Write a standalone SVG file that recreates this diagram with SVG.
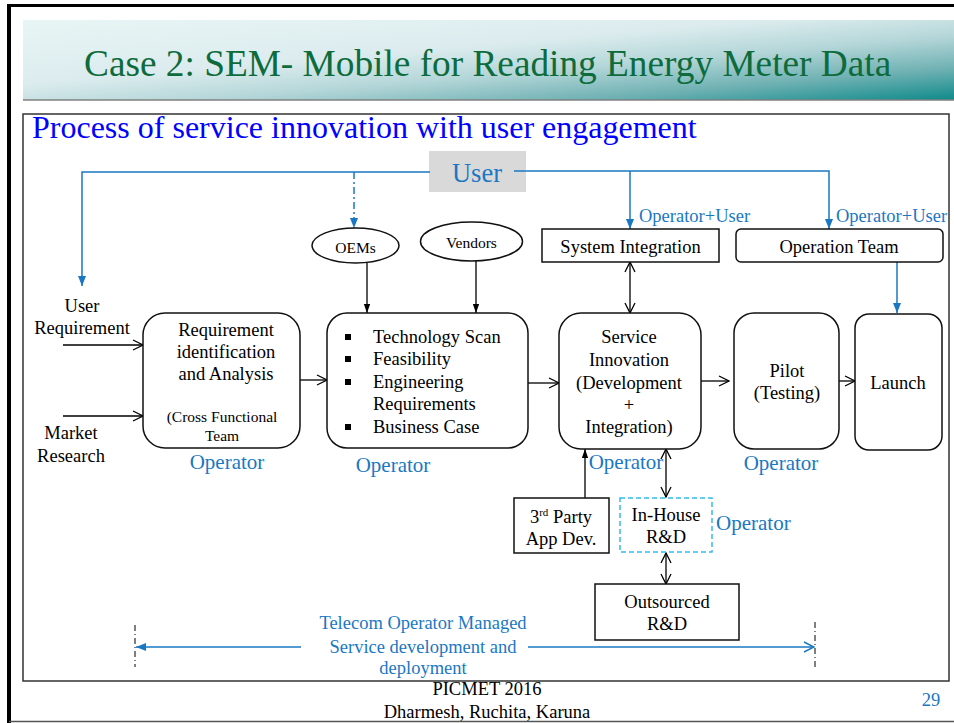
<svg xmlns="http://www.w3.org/2000/svg" width="954" height="723" viewBox="0 0 954 723">
  <style>
    .t { font-family: "Liberation Serif", "Times New Roman", serif; fill: #000; }
    .body { font-size: 18.5px; }
    .small { font-size: 15.5px; }
    .op { font-family: "Liberation Serif", "Times New Roman", serif; fill: #1a78c2; font-size: 21px; }
    .opu { font-family: "Liberation Serif", "Times New Roman", serif; fill: #1a78c2; font-size: 18.5px; }
    .box { fill: #fff; stroke: #111; stroke-width: 1.5; }
    .ln { fill: none; stroke: #000; stroke-width: 1.3; }
    .bl { fill: none; stroke: #1a78c2; stroke-width: 1.5; }
  </style>
  <defs>
    <linearGradient id="banner" x1="0" y1="0" x2="1" y2="1">
      <stop offset="0" stop-color="#e8f5f5"/>
      <stop offset="0.4" stop-color="#dcecee"/>
      <stop offset="0.6" stop-color="#b4d6d8"/>
      <stop offset="0.8" stop-color="#6fb1b3"/>
      <stop offset="1" stop-color="#0f8a8a"/>
    </linearGradient>
    <marker id="open" viewBox="0 0 12 12" refX="11" refY="6" markerWidth="12" markerHeight="12" markerUnits="userSpaceOnUse" orient="auto-start-reverse">
      <path d="M1,1 L11,6 L1,11" fill="none" stroke="#000" stroke-width="1.3"/>
    </marker>
    <marker id="fill" viewBox="0 0 10 10" refX="10" refY="5" markerWidth="9" markerHeight="9" markerUnits="userSpaceOnUse" orient="auto-start-reverse">
      <path d="M0,1.5 L10,5 L0,8.5 Z" fill="#000"/>
    </marker>
    <marker id="blue" viewBox="0 0 10 10" refX="10" refY="5" markerWidth="10" markerHeight="10" markerUnits="userSpaceOnUse" orient="auto-start-reverse">
      <path d="M0,1 L10,5 L0,9 Z" fill="#1a78c2"/>
    </marker>
    <marker id="blueopen" viewBox="0 0 12 12" refX="11" refY="6" markerWidth="12" markerHeight="12" markerUnits="userSpaceOnUse" orient="auto">
      <path d="M1,1 L11,6 L1,11" fill="none" stroke="#1a78c2" stroke-width="1.4"/>
    </marker>
  </defs>

  <!-- page frame -->
  <rect x="0" y="0" width="954" height="723" fill="#fff"/>
  <line x1="9" y1="4" x2="9" y2="723" stroke="#000" stroke-width="4"/>
  <line x1="7" y1="5.5" x2="954" y2="5.5" stroke="#000" stroke-width="3"/>
  <line x1="9" y1="721.5" x2="954" y2="721.5" stroke="#555" stroke-width="1.5"/>

  <!-- title banner -->
  <rect x="23" y="20" width="931" height="80" fill="url(#banner)"/>
  <line x1="23" y1="100" x2="954" y2="100" stroke="#808080" stroke-width="1.5"/>
  <text x="84" y="76" font-family="Liberation Serif, Times New Roman, serif" font-size="37.3" fill="#0d6b3c">Case 2: SEM- Mobile for Reading Energy Meter Data</text>

  <!-- content frame -->
  <rect x="23" y="114" width="926" height="567" fill="none" stroke="#333" stroke-width="1.5"/>
  <text x="32" y="138" font-family="Liberation Serif, Times New Roman, serif" font-size="32" fill="#0000ff">Process of service innovation with user engagement</text>

  <!-- user source -->
  <g id="user">
    <rect x="429" y="151" width="97" height="41" fill="#d9d9d9"/>
    <text x="477" y="182" text-anchor="middle" font-family="Liberation Serif, Times New Roman, serif" font-size="26.5" fill="#1a78c2">User</text>
  </g>

  <!-- connectors -->
  <g id="connectors">
    <!-- user feedback lines -->
    <polyline class="bl" points="430,172 82,172 82,286" marker-end="url(#blue)"/>
    <line class="bl" x1="354" y1="172" x2="354" y2="228" stroke-dasharray="7,3,2,3" marker-end="url(#blue)"/>
    <polyline class="bl" points="514,171 829,171 829,229" marker-end="url(#blue)"/>
    <line class="bl" x1="630" y1="171" x2="630" y2="229" marker-end="url(#blue)"/>
    <line class="bl" x1="897" y1="262" x2="897" y2="313" marker-end="url(#blue)"/>

    <!-- inputs -->
    <line class="ln" x1="63" y1="345" x2="143" y2="345" marker-end="url(#open)"/>
    <line class="ln" x1="63" y1="416" x2="143" y2="416" marker-end="url(#open)"/>
    <line class="ln" x1="367" y1="262" x2="367" y2="313" marker-end="url(#fill)"/>
    <line class="ln" x1="476" y1="261" x2="476" y2="313" marker-end="url(#fill)"/>

    <!-- main flow -->
    <line class="ln" x1="300" y1="380" x2="327" y2="380" marker-end="url(#open)"/>
    <line class="ln" x1="528" y1="383" x2="559" y2="383" marker-end="url(#open)"/>
    <line class="ln" x1="701" y1="381" x2="729" y2="381" marker-end="url(#open)"/>
    <line class="ln" x1="839" y1="381" x2="855" y2="381" marker-end="url(#open)"/>

    <!-- development links -->
    <line class="ln" x1="630" y1="262" x2="630" y2="313" marker-start="url(#open)" marker-end="url(#open)"/>
    <line class="ln" x1="585" y1="498" x2="585" y2="449" marker-end="url(#fill)"/>
    <line class="ln" x1="666" y1="449" x2="666" y2="497" marker-start="url(#open)" marker-end="url(#open)"/>
    <line class="ln" x1="666" y1="553" x2="666" y2="584" marker-start="url(#open)" marker-end="url(#open)"/>

    <!-- managed span -->
    <line x1="135" y1="625" x2="135" y2="667" stroke="#000" stroke-width="1" stroke-dasharray="6,3,1,3"/>
    <line x1="815" y1="622" x2="815" y2="667" stroke="#000" stroke-width="1" stroke-dasharray="6,3,1,3"/>
    <line class="bl" x1="301" y1="647" x2="136" y2="647" marker-end="url(#blue)"/>
    <line class="bl" x1="528" y1="647" x2="814" y2="647" marker-end="url(#blueopen)"/>
  </g>

  <g id="user-requirement">
    <text class="t body" text-anchor="middle"><tspan x="82" y="312">User</tspan><tspan x="82" y="334">Requirement</tspan></text>
  </g>
  <g id="market-research">
    <text class="t body" text-anchor="middle"><tspan x="71" y="439">Market</tspan><tspan x="71" y="462">Research</tspan></text>
  </g>

  <g id="oems">
    <ellipse cx="355.5" cy="245.5" rx="43.5" ry="17.5" class="box"/>
    <text class="t small" x="355.5" y="253" text-anchor="middle">OEMs</text>
  </g>
  <g id="vendors">
    <ellipse cx="471.5" cy="241.5" rx="51" ry="19.5" class="box"/>
    <text class="t small" x="471.5" y="248" text-anchor="middle">Vendors</text>
  </g>

  <g id="system-integration">
    <rect x="542" y="229" width="177" height="33" class="box"/>
    <text class="t body" x="630.5" y="253" text-anchor="middle">System Integration</text>
    <text class="opu" x="639" y="222">Operator+User</text>
  </g>
  <g id="operation-team">
    <rect x="736" y="229" width="207" height="33" rx="5" class="box"/>
    <text class="t body" x="839" y="253" text-anchor="middle">Operation Team</text>
    <text class="opu" x="836" y="222">Operator+User</text>
  </g>

  <g id="requirement">
    <rect x="143" y="313" width="157" height="135" rx="22" class="box"/>
    <text class="t body" text-anchor="middle"><tspan x="226" y="336">Requirement</tspan><tspan x="226" y="358">identification</tspan><tspan x="226" y="380">and Analysis</tspan></text>
    <text class="t small" text-anchor="middle"><tspan x="222" y="422">(Cross Functional</tspan><tspan x="222" y="441">Team</tspan></text>
    <text class="op" x="227" y="469" text-anchor="middle">Operator</text>
  </g>

  <g id="technology">
    <rect x="327" y="313" width="201" height="135" rx="20" class="box"/>
    <g fill="#000">
      <rect x="345" y="334" width="6" height="6"/>
      <rect x="345" y="356" width="6" height="6"/>
      <rect x="345" y="379" width="6" height="6"/>
      <rect x="345" y="424" width="6" height="6"/>
    </g>
    <text class="t body"><tspan x="373" y="343">Technology Scan</tspan><tspan x="373" y="365">Feasibility</tspan><tspan x="373" y="388">Engineering</tspan><tspan x="373" y="410">Requirements</tspan><tspan x="373" y="433">Business Case</tspan></text>
    <text class="op" x="393" y="472" text-anchor="middle">Operator</text>
  </g>

  <g id="service-innovation">
    <rect x="559" y="313" width="142" height="136" rx="22" class="box"/>
    <text class="t body" text-anchor="middle"><tspan x="629" y="343">Service</tspan><tspan x="629" y="366">Innovation</tspan><tspan x="629" y="389">(Development</tspan><tspan x="629" y="411">+</tspan><tspan x="629" y="433">Integration)</tspan></text>
    <text class="op" x="626" y="469" text-anchor="middle">Operator</text>
  </g>

  <g id="pilot">
    <rect x="734" y="313" width="105" height="136" rx="20" class="box"/>
    <text class="t body" text-anchor="middle"><tspan x="787" y="377">Pilot</tspan><tspan x="787" y="399">(Testing)</tspan></text>
    <text class="op" x="781" y="470" text-anchor="middle">Operator</text>
  </g>

  <g id="launch">
    <rect x="855" y="314" width="87" height="136" rx="14" class="box"/>
    <text class="t body" x="898" y="389" text-anchor="middle">Launch</text>
  </g>

  <g id="third-party">
    <rect x="514" y="498" width="95" height="55" class="box"/>
    <text class="t body" text-anchor="middle"><tspan x="561" y="523">3<tspan font-size="11" dy="-7">rd</tspan><tspan dy="7"> Party</tspan></tspan><tspan x="561" y="545">App Dev.</tspan></text>
  </g>

  <g id="in-house">
    <rect x="620" y="498" width="92" height="54" fill="#fff" stroke="#33bbee" stroke-width="1.5" stroke-dasharray="5,3"/>
    <text class="t body" text-anchor="middle"><tspan x="666" y="521">In-House</tspan><tspan x="666" y="543">R&amp;D</tspan></text>
    <text class="op" x="716" y="530">Operator</text>
  </g>

  <g id="outsourced">
    <rect x="595" y="584" width="144" height="56" class="box"/>
    <text class="t body" text-anchor="middle"><tspan x="667" y="608">Outsourced</tspan><tspan x="667" y="630">R&amp;D</tspan></text>
  </g>

  <g id="managed-label">
    <text class="opu" text-anchor="middle"><tspan x="423" y="629">Telecom Operator Managed</tspan><tspan x="423" y="653">Service development and</tspan><tspan x="423" y="674">deployment</tspan></text>
  </g>

  <!-- footer -->
  <text class="t body" text-anchor="middle"><tspan x="487" y="695">PICMET 2016</tspan><tspan x="487" y="718">Dharmesh, Ruchita, Karuna</tspan></text>
  <text class="opu" x="931" y="706" text-anchor="middle">29</text>
</svg>
